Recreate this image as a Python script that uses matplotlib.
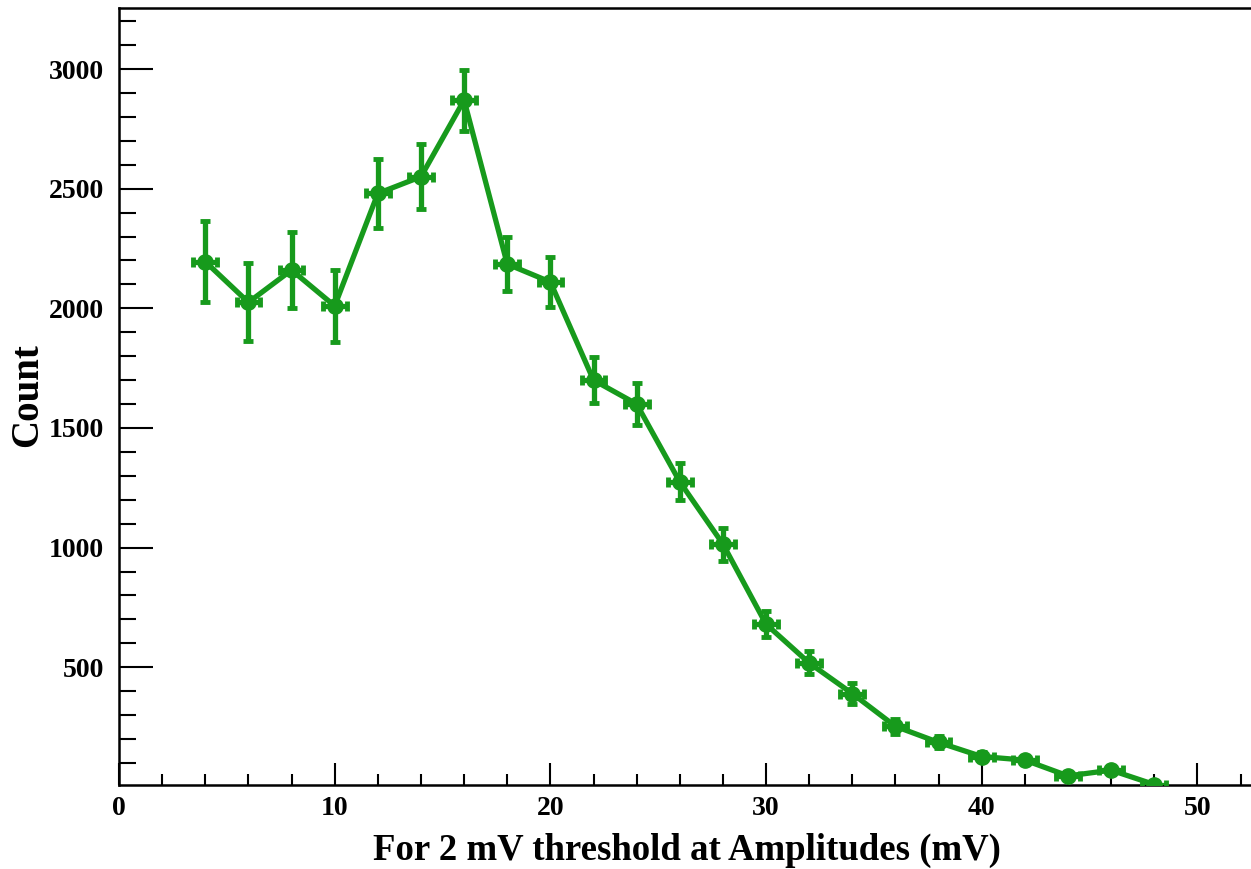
import matplotlib
matplotlib.use("Agg")
import matplotlib.pyplot as plt
from matplotlib.ticker import MultipleLocator, FixedLocator

amplitude = [4, 6, 8, 10, 12, 14, 16, 18, 20, 22, 24, 26, 28, 30, 32, 34, 36, 38, 40, 42, 44, 46, 48]
counts = [2195, 2025, 2160, 2010, 2480, 2550, 2870, 2185, 2110, 1700, 1600, 1275, 1015,
          680, 518, 390, 253, 186, 127, 112, 46, 70, 10]
count_err = [170, 163, 157, 150, 143, 136, 127, 113, 106, 95, 86, 77, 69,
             55, 48, 43, 30, 25, 20, 18, 12, 15, 5]
amp_err = [0.55] * len(amplitude)

color = "#179a1c"

plt.rcParams["font.family"] = ["Liberation Serif", "DejaVu Serif"]
plt.rcParams["font.weight"] = "bold"

fig = plt.figure(figsize=(12.51, 8.69), dpi=100)
ax = fig.add_axes([119 / 1251, 1 - 785 / 869, 1 - 119 / 1251 + 0.002, (785 - 8) / 869])

ax.errorbar(amplitude, counts, yerr=count_err, xerr=amp_err, fmt="none",
            ecolor=color, elinewidth=3.8, capsize=3.5, capthick=3.5, zorder=3)
ax.plot(amplitude, counts, "-o", color=color, lw=3.8, markersize=11, zorder=4)

ax.set_xlim(0, 52.6)
ax.set_ylim(8, 3255)

ax.xaxis.set_major_locator(MultipleLocator(10))
ax.xaxis.set_minor_locator(MultipleLocator(2))
ax.yaxis.set_major_locator(FixedLocator([500, 1000, 1500, 2000, 2500, 3000]))
ax.yaxis.set_minor_locator(MultipleLocator(100))

ax.tick_params(axis="x", which="major", direction="in", length=15.8, width=1.5,
               pad=8, labelsize=20)
ax.tick_params(axis="x", which="minor", direction="in", length=7.9, width=1.5)
ax.tick_params(axis="y", which="major", direction="in", length=24.5, width=1.5,
               pad=11, labelsize=20)
ax.tick_params(axis="y", which="minor", direction="in", length=12.2, width=1.5)
ax.tick_params(top=False, right=False, which="both")

for lab in ax.get_xticklabels() + ax.get_yticklabels():
    lab.set_fontweight("bold")

for s in ["left", "bottom", "top"]:
    ax.spines[s].set_linewidth(1.8)
ax.spines["right"].set_visible(False)

fig.text(687 / 1251, 1 - 850 / 869, "For 2 mV threshold at Amplitudes (mV)",
         ha="center", va="center", fontsize=26.5, fontweight="bold")
fig.text(28 / 1251, 1 - 395 / 869, "Count", ha="center", va="center",
         rotation=90, fontsize=28, fontweight="bold")

fig.savefig("out.png", dpi=100)
